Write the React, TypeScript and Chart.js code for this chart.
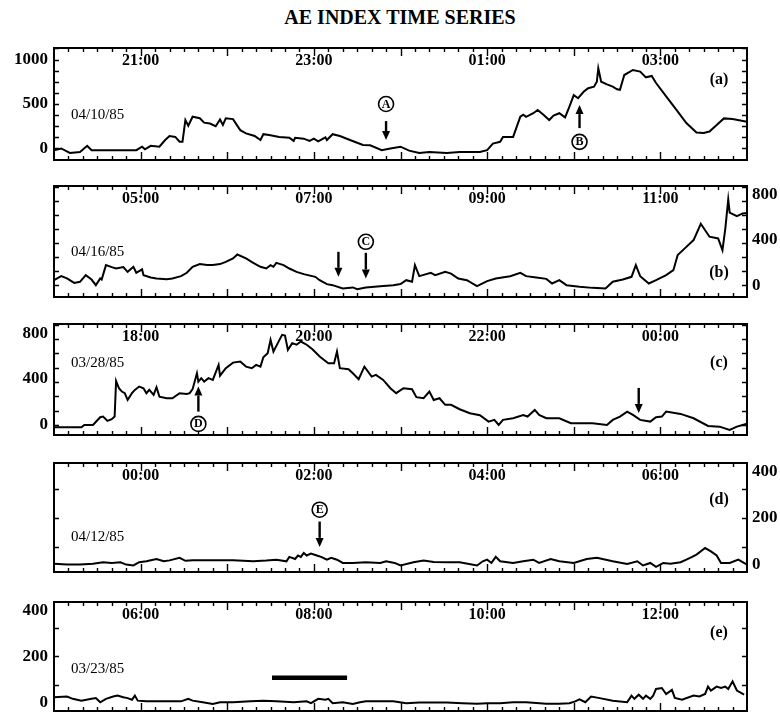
import { useEffect, useRef } from "react";
import { Chart, registerables } from "chart.js";

Chart.register(...registerables);

const SERIF = '"Liberation Serif", "Times New Roman", Times, serif';

// Minutes after the start of each 8-hour window, and the AE index (nT) at that time.

// (a) 04/10/85, 20:00 - 04:00 UT
const minutesA = [0, 5, 11, 18, 23, 26, 32, 57, 61, 63, 67, 73, 77, 80, 84, 87, 89, 91, 93, 96, 101, 104, 108, 112, 115, 117, 119, 124, 129, 133, 139, 143, 145, 149, 156, 163, 166, 167, 173, 177, 180, 183, 188, 189, 193, 198, 205, 214, 219, 227, 233, 240, 246, 253, 260, 272, 281, 295, 300, 304, 309, 311, 318, 323, 325, 327, 332, 335, 339, 343, 346, 350, 354, 357, 360, 363, 367, 370, 374, 376, 377, 379, 383, 387, 390, 392, 395, 401, 406, 410, 414, 417, 424, 431, 438, 445, 450, 454, 459, 464, 470, 480];
const aeA = [-20, 0, -50, -40, 30, -20, -20, -20, 20, -10, 30, 20, 95, 140, 130, 75, 75, 320, 255, 357, 340, 290, 280, 250, 325, 265, 340, 330, 206, 170, 140, 95, 160, 150, 130, 120, 85, 120, 110, 85, 110, 80, 125, 95, 160, 140, 95, 40, 35, -20, 0, 20, -25, -50, -40, -50, -40, -40, -20, 55, 75, 130, 130, 357, 380, 355, 396, 432, 380, 320, 370, 396, 350, 470, 600, 565, 640, 677, 695, 751, 902, 751, 720, 695, 665, 660, 826, 883, 865, 800, 815, 736, 586, 436, 286, 180, 173, 190, 263, 338, 330, 300];
const hoursA = ["21:00", "23:00", "01:00", "03:00"];

// (b) 04/16/85, 04:00 - 12:00 UT
const minutesB = [0, 5, 9, 14, 18, 22, 26, 29, 32, 33, 36, 40, 43, 48, 51, 55, 57, 61, 62, 67, 71, 78, 82, 88, 92, 96, 101, 106, 110, 115, 119, 124, 127, 133, 138, 143, 147, 150, 152, 154, 159, 163, 168, 173, 181, 184, 189, 193, 200, 207, 210, 216, 226, 235, 240, 244, 248, 250, 253, 261, 264, 271, 275, 280, 286, 293, 300, 306, 316, 323, 327, 334, 341, 345, 350, 355, 364, 373, 382, 387, 394, 400, 403, 406, 412, 417, 424, 429, 432, 438, 443, 448, 454, 460, 463, 465, 467, 468, 473, 477, 480];
const aeB = [44, 80, 60, 20, 30, 89, 50, 0, 59, 50, 178, 160, 148, 160, 118, 163, 110, 140, 89, 68, 59, 53, 59, 80, 110, 163, 187, 178, 178, 187, 207, 237, 272, 237, 198, 163, 148, 178, 163, 198, 178, 148, 118, 98, 74, 44, 9, 0, -30, -20, -36, -20, -9, 0, 10, 44, 30, 178, 80, 109, 89, 118, 103, 59, 44, -9, 36, 59, 80, 109, 80, 68, 56, 15, 44, 0, -15, -24, -30, 30, 50, 74, 178, 80, 15, 44, 89, 133, 267, 340, 400, 545, 430, 415, 311, 504, 760, 643, 613, 637, 640];
const hoursB = ["05:00", "07:00", "09:00", "11:00"];

// (c) 03/28/85, 17:00 - 01:00 UT
const minutesC = [0, 19, 21, 27, 32, 34, 37, 40, 42, 43, 45, 47, 49, 51, 54, 56, 59, 62, 64, 66, 69, 71, 73, 78, 82, 87, 92, 94, 96, 99, 100, 102, 104, 107, 110, 114, 115, 119, 124, 129, 133, 137, 140, 143, 145, 148, 150, 152, 155, 158, 160, 162, 165, 168, 171, 175, 179, 184, 190, 194, 196, 198, 204, 207, 211, 215, 220, 223, 228, 233, 237, 242, 248, 251, 256, 260, 263, 267, 271, 275, 281, 288, 295, 301, 305, 308, 311, 318, 325, 328, 333, 336, 341, 350, 358, 373, 383, 387, 392, 397, 401, 406, 413, 417, 421, 424, 434, 443, 453, 461, 468, 473, 477, 480];
const aeC = [-20, -20, 0, 0, 67, 73, 35, 50, 73, 384, 320, 291, 277, 218, 277, 306, 335, 320, 277, 306, 262, 329, 247, 233, 233, 277, 270, 277, 312, 451, 378, 408, 378, 408, 393, 524, 430, 495, 544, 553, 509, 495, 524, 509, 591, 626, 742, 640, 714, 786, 780, 655, 714, 700, 728, 700, 661, 597, 539, 539, 640, 495, 486, 451, 399, 509, 422, 437, 393, 320, 277, 320, 311, 242, 233, 291, 218, 233, 175, 175, 137, 102, 85, 29, 44, 0, 44, 58, 87, 73, 131, 87, 58, 58, 15, 15, 0, 44, 73, 116, 87, 44, 29, 67, 73, 116, 96, 58, -9, -15, -44, -15, 0, 10];
const hoursC = ["18:00", "20:00", "22:00", "00:00"];

// (d) 04/12/85, 23:00 - 07:00 UT
const minutesD = [0, 9, 18, 27, 34, 40, 46, 50, 55, 59, 64, 71, 76, 80, 87, 91, 96, 124, 138, 147, 154, 161, 163, 167, 169, 171, 173, 175, 178, 182, 185, 189, 192, 196, 200, 207, 216, 226, 230, 236, 240, 249, 256, 263, 272, 281, 293, 297, 300, 303, 306, 309, 318, 325, 332, 336, 344, 350, 360, 369, 376, 387, 397, 404, 408, 413, 417, 422, 427, 434, 438, 442, 445, 451, 455, 459, 462, 468, 474, 480];
const aeD = [4, 0, 0, 4, 10, 7, 10, 0, -4, 10, 14, 24, 14, 18, 29, 16, 19, 19, 14, 17, 21, 14, 33, 24, 39, 33, 50, 39, 47, 39, 33, 21, 29, 21, 7, 7, 10, 7, 14, 7, -4, 10, 17, 11, 10, 10, -4, 14, 21, 7, 33, 14, 7, 14, 21, 7, 24, 14, 7, 24, 29, 14, 3, 14, -4, 7, -10, 7, 4, 10, 21, 33, 43, 71, 57, 39, 7, 7, 21, 0];
const hoursD = ["00:00", "02:00", "04:00", "06:00"];

// (e) 03/23/85, 05:00 - 13:00 UT
const minutesE = [0, 9, 13, 19, 26, 29, 32, 36, 41, 44, 48, 51, 54, 56, 58, 64, 78, 88, 93, 96, 103, 110, 115, 124, 136, 145, 154, 166, 175, 178, 183, 188, 190, 193, 200, 207, 212, 216, 226, 235, 244, 253, 272, 283, 293, 300, 309, 318, 327, 341, 350, 357, 361, 364, 368, 372, 378, 387, 397, 400, 402, 405, 408, 410, 413, 415, 417, 421, 424, 428, 430, 435, 443, 447, 451, 453, 455, 459, 462, 465, 467, 470, 473, 478];
const aeE = [22, 25, 15, 7, 15, 18, 0, 15, 25, 29, 22, 18, 11, 29, 7, 4, 4, 4, 15, 7, 0, -7, 0, 0, 4, 7, 4, 0, 4, -4, 15, 11, 15, -4, 0, -7, 0, 4, 4, 4, -4, -1, -1, -4, -7, -4, -4, 0, 0, -7, -7, -4, 4, 13, 0, 25, 18, 7, 0, 29, 15, 33, 15, 29, 15, 29, 58, 62, 36, 54, 19, 11, 29, 25, 36, 68, 51, 68, 62, 68, 58, 91, 51, 33];
const hoursE = ["06:00", "08:00", "10:00", "12:00"];

// Arrow markers (time in minutes, AE from tail to tip) and circled event letters
const arrowsA = [{ x: 230, from: 308, to: 94 }, { x: 364, from: 229, to: 488 }];
const circlesA = [{ x: 230, y: 500, text: "A" }, { x: 364, y: 74, text: "B" }];
const arrowsB = [{ x: 197, from: 296, to: 74 }, { x: 216, from: 287, to: 60 }];
const circlesB = [{ x: 216, y: 385, text: "C" }];
const arrowsC = [{ x: 100, from: 116, to: 335 }, { x: 405, from: 323, to: 105 }];
const circlesC = [{ x: 100, y: 9, text: "D" }];
const arrowsD = [{ x: 184, from: 185, to: 76 }];
const circlesD = [{ x: 184, y: 236, text: "E" }];
const barE = { from: 151, to: 203, y: 107 };

const SPAN_MIN = 480;
const HOUR_LABEL_MIN = [60, 180, 300, 420];
const PAD = 12;
const PLOT_LEFT = 54;
const PLOT_RIGHT_GAP = 33;
const WIDTH = 780;

type Arrow = { x: number; from: number; to: number };
type Circle = { x: number; y: number; text: string };

type Panel = {
  top: number;
  height: number;
  minutes: number[];
  values: number[];
  yMin: number;
  yMax: number;
  yLabels: number[];
  yTicks: number[];
  ySide: "left" | "right";
  hours: string[];
  date: string;
  dateDy: number;
  tag: string;
  tagDy: number;
  arrows: Arrow[];
  circles: Circle[];
  bar?: { from: number; to: number; y: number };
};

const ticks125 = [0, 125, 250, 375, 500, 625, 750, 875, 1000, 1125];
const ticksLow = [75, 200, 325];

const PANELS: Panel[] = [
  { top: 48, height: 112, minutes: minutesA, values: aeA, yMin: -130, yMax: 1130, yLabels: [0, 500, 1000], yTicks: ticks125, ySide: "left", hours: hoursA, date: "04/10/85", dateDy: 67, tag: "(a)", tagDy: 32, arrows: arrowsA, circles: circlesA },
  { top: 186, height: 111, minutes: minutesB, values: aeB, yMin: -105, yMax: 880, yLabels: [0, 400, 800], yTicks: ticks125, ySide: "right", hours: hoursB, date: "04/16/85", dateDy: 66, tag: "(b)", tagDy: 87, arrows: arrowsB, circles: circlesB },
  { top: 324, height: 111, minutes: minutesC, values: aeC, yMin: -88, yMax: 881, yLabels: [0, 400, 800], yTicks: ticks125, ySide: "left", hours: hoursC, date: "03/28/85", dateDy: 39, tag: "(c)", tagDy: 39, arrows: arrowsC, circles: circlesC },
  { top: 463, height: 109, minutes: minutesD, values: aeD, yMin: -32, yMax: 437, yLabels: [0, 200, 400], yTicks: ticksLow, ySide: "right", hours: hoursD, date: "04/12/85", dateDy: 74, tag: "(d)", tagDy: 37, arrows: arrowsD, circles: circlesD },
  { top: 602, height: 109, minutes: minutesE, values: aeE, yMin: -38, yMax: 436, yLabels: [0, 200, 400], yTicks: ticksLow, ySide: "left", hours: hoursE, date: "03/23/85", dateDy: 67, tag: "(e)", tagDy: 31, arrows: [], circles: [], bar: barE },
];

function makeDecorations(p: Panel) {
  return {
    id: "panelDecor",
    afterDatasetsDraw(chart: any) {
      const { ctx, chartArea } = chart;
      const { left, right, top, bottom } = chartArea;
      const xs = chart.scales.x;
      const ys = chart.scales.y;
      ctx.save();
      ctx.strokeStyle = "#000";
      ctx.fillStyle = "#000";

      // time ticks every 10 minutes, longer on the hour, pointing inward
      ctx.lineWidth = 1.4;
      ctx.beginPath();
      for (let m = 10; m < SPAN_MIN; m += 10) {
        const px = Math.round(xs.getPixelForValue(m)) + 0.5;
        const len = m % 60 === 0 ? 8 : 4;
        ctx.moveTo(px, top);
        ctx.lineTo(px, top + len);
        ctx.moveTo(px, bottom);
        ctx.lineTo(px, bottom - len);
      }
      // AE ticks on both sides
      for (const v of p.yTicks) {
        if (v <= p.yMin || v >= p.yMax) continue;
        const py = Math.round(ys.getPixelForValue(v)) + 0.5;
        ctx.moveTo(left, py);
        ctx.lineTo(left + 5, py);
        ctx.moveTo(right, py);
        ctx.lineTo(right - 5, py);
      }
      ctx.stroke();

      // frame
      ctx.lineWidth = 2;
      ctx.strokeRect(left, top, right - left, bottom - top);

      // hour labels inside the top edge
      ctx.font = `bold 16px ${SERIF}`;
      ctx.textAlign = "center";
      ctx.textBaseline = "middle";
      HOUR_LABEL_MIN.forEach((m, i) => {
        ctx.fillText(p.hours[i], xs.getPixelForValue(m), top + 13);
      });

      // AE labels
      ctx.font = `bold 17px ${SERIF}`;
      for (const v of p.yLabels) {
        const py = ys.getPixelForValue(v);
        if (p.ySide === "left") {
          ctx.textAlign = "right";
          ctx.fillText(String(v), left - 6, py);
        } else {
          ctx.textAlign = "left";
          ctx.fillText(String(v), right + 5, py);
        }
      }

      // date and panel tag
      ctx.font = `15px ${SERIF}`;
      ctx.textAlign = "left";
      ctx.fillText(p.date, left + 17, top + p.dateDy);
      ctx.font = `bold 16px ${SERIF}`;
      ctx.textAlign = "center";
      ctx.fillText(p.tag, right - 28, top + p.tagDy);

      // arrows
      for (const a of p.arrows) {
        const px = xs.getPixelForValue(a.x);
        const y0 = ys.getPixelForValue(a.from);
        const y1 = ys.getPixelForValue(a.to);
        const dir = y1 > y0 ? 1 : -1;
        const head = 9;
        ctx.lineWidth = 2.4;
        ctx.beginPath();
        ctx.moveTo(px, y0);
        ctx.lineTo(px, y1 - dir * head);
        ctx.stroke();
        ctx.beginPath();
        ctx.moveTo(px, y1);
        ctx.lineTo(px - 4, y1 - dir * head);
        ctx.lineTo(px + 4, y1 - dir * head);
        ctx.closePath();
        ctx.fill();
      }

      // circled event letters
      for (const c of p.circles) {
        const px = xs.getPixelForValue(c.x);
        const py = ys.getPixelForValue(c.y);
        ctx.lineWidth = 1.6;
        ctx.beginPath();
        ctx.arc(px, py, 7.5, 0, Math.PI * 2);
        ctx.stroke();
        ctx.font = `bold 12px ${SERIF}`;
        ctx.textAlign = "center";
        ctx.fillText(c.text, px, py + 0.5);
      }

      // interval bar
      if (p.bar) {
        const y = ys.getPixelForValue(p.bar.y);
        ctx.lineWidth = 4.5;
        ctx.beginPath();
        ctx.moveTo(xs.getPixelForValue(p.bar.from), y);
        ctx.lineTo(xs.getPixelForValue(p.bar.to), y);
        ctx.stroke();
      }
      ctx.restore();
    },
  };
}

function AEPanel({ panel }: { panel: Panel }) {
  const ref = useRef<HTMLCanvasElement | null>(null);
  useEffect(() => {
    if (!ref.current) return;
    const points = panel.minutes.map((m, i) => ({ x: m, y: panel.values[i] }));
    const chart = new Chart(ref.current, {
      type: "line",
      data: {
        datasets: [
          {
            data: points,
            borderColor: "#000",
            borderWidth: 2,
            pointRadius: 0,
            tension: 0,
            fill: false,
          },
        ],
      },
      options: {
        animation: false,
        responsive: false,
        devicePixelRatio: 1,
        events: [],
        layout: {
          padding: { left: PLOT_LEFT, right: PLOT_RIGHT_GAP, top: PAD, bottom: PAD },
        },
        plugins: { legend: { display: false }, tooltip: { enabled: false } },
        scales: {
          x: { type: "linear", min: 0, max: SPAN_MIN, display: false },
          y: { type: "linear", min: panel.yMin, max: panel.yMax, display: false },
        },
      },
      plugins: [makeDecorations(panel)],
    });
    return () => chart.destroy();
  }, [panel]);

  return (
    <canvas
      ref={ref}
      width={WIDTH}
      height={panel.height + PAD * 2}
      style={{ position: "absolute", left: 0, top: panel.top - PAD, width: WIDTH, height: panel.height + PAD * 2 }}
    />
  );
}

export default function App() {
  return (
    <div style={{ position: "fixed", left: 0, top: 0, width: WIDTH, height: 712, background: "#fff", overflow: "hidden" }}>
      <div
        style={{
          position: "absolute",
          left: 150,
          top: 6,
          width: 500,
          textAlign: "center",
          fontFamily: SERIF,
          fontWeight: "bold",
          fontSize: 20,
          lineHeight: "22px",
          color: "#000",
        }}
      >
        AE INDEX TIME SERIES
      </div>
      {PANELS.map((p, i) => (
        <AEPanel key={i} panel={p} />
      ))}
    </div>
  );
}
